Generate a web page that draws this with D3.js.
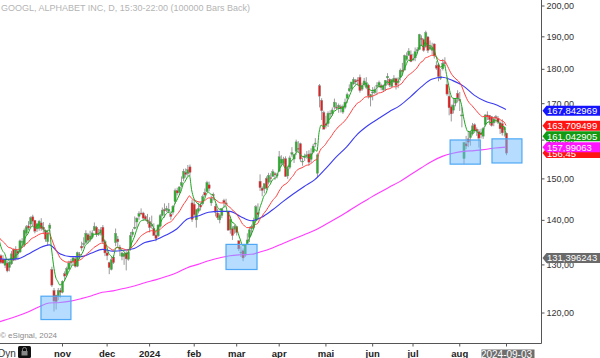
<!DOCTYPE html>
<html>
<head>
<meta charset="utf-8">
<script src="https://cdn.jsdelivr.net/npm/d3@7"></script>
<style>
  body { margin: 0; background: #fff; }
  svg { display: block; font-family: "Liberation Sans", Arial, sans-serif; }
</style>
</head>
<body>
<svg id="chart" width="600" height="358"></svg>
<script>
// GOOGL daily bars, 2023-09-20 .. 2024-09-03 (bar index 0..239)
const opens = [
  135.5,131.9,131.1,129.8,130.3,129.3,130.1,133.2,131.2,132.9,
  132.7,135.0,134.2,136.9,138.6,139.0,140.7,139.9,137.9,138.0,
  139.3,138.3,137.6,135.0,138.0,128.9,124.5,123.5,123.2,124.5,
  124.1,128.0,127.8,129.0,130.3,130.6,131.2,129.6,132.2,134.0,
  134.4,134.8,136.6,135.5,136.0,137.5,138.3,136.6,137.0,138.3,
  135.0,132.5,130.4,128.9,131.6,134.8,135.6,133.8,131.7,131.7,
  132.5,131.1,133.6,136.6,138.0,139.5,140.8,141.6,141.6,140.8,
  140.0,139.6,138.6,138.0,136.5,136.3,138.5,141.0,142.4,142.3,
  142.0,141.3,141.8,144.3,147.0,146.5,148.2,150.0,151.5,151.2,
  152.9,144.0,143.7,140.0,142.0,143.5,143.8,146.5,146.7,148.4,
  144.0,146.0,143.2,141.6,140.0,141.0,144.6,143.7,142.0,137.7,
  138.0,137.8,138.4,135.2,132.6,133.0,132.0,134.6,136.0,137.9,
  138.2,139.8,141.7,149.3,147.6,147.4,150.0,149.0,150.2,150.5,
  151.2,150.8,151.8,153.8,153.7,155.0,150.6,152.8,156.1,154.9,
  156.9,157.7,158.9,154.2,155.4,155.9,156.2,154.8,156.7,158.8,
  151.3,175.0,170.8,167.4,164.3,164.3,167.0,167.0,168.9,168.9,
  168.7,169.0,167.5,168.8,171.4,173.5,174.1,175.5,176.5,176.7,
  177.5,174.0,175.3,174.5,175.2,171.7,173.2,173.0,174.9,175.0,
  175.1,173.8,175.0,177.3,176.9,174.8,176.1,177.1,175.9,177.4,
  179.6,179.6,182.8,184.1,184.3,183.0,183.3,185.6,185.9,189.4,
  189.0,186.7,189.8,186.0,185.6,187.6,181.0,181.2,177.2,180.0,
  181.9,175.4,172.0,169.0,168.0,170.0,172.8,171.0,166.6,155.0,
  158.9,160.2,160.5,161.5,164.0,162.8,162.1,161.8,160.9,164.0,
  166.7,166.6,166.2,164.5,166.2,165.8,164.5,164.3,162.6,161.7
];
const highs = [
  136.0,132.2,132.0,131.3,130.7,130.9,132.9,133.5,134.0,133.4,
  135.5,135.8,138.0,138.8,139.7,140.8,141.2,140.0,139.2,140.0,
  140.4,139.5,137.8,137.7,139.3,129.5,125.0,123.6,125.0,125.0,
  126.6,128.5,129.5,130.8,131.2,131.6,131.6,132.8,132.7,135.0,
  136.0,137.6,137.0,137.5,137.6,139.4,138.6,137.9,138.3,138.8,
  135.4,133.0,130.6,131.7,132.0,138.0,136.3,134.3,132.8,132.5,
  132.9,133.4,137.2,137.9,140.8,140.6,142.0,142.7,141.9,141.1,
  141.4,140.6,141.0,139.2,137.1,139.0,141.4,142.9,143.9,143.3,
  144.0,142.0,143.5,147.5,147.7,148.0,150.5,152.4,152.5,153.4,
  153.5,144.8,144.8,142.6,144.0,144.0,146.0,147.5,149.4,149.2,
  145.8,146.5,143.8,142.6,141.5,142.7,145.0,145.0,142.1,140.3,
  138.5,138.9,138.5,135.3,134.0,133.5,134.4,136.9,138.4,138.9,
  140.5,143.5,143.9,151.0,148.0,148.7,150.5,151.4,151.3,152.3,
  151.6,151.4,157.0,155.9,155.5,155.6,153.2,155.8,158.0,156.2,
  160.0,159.6,159.2,155.3,156.3,157.0,157.2,157.7,158.9,160.4,
  156.4,175.5,171.4,167.9,166.5,167.7,168.0,168.8,171.3,170.2,
  169.9,169.6,169.6,171.3,173.0,175.4,176.1,177.5,177.0,177.5,
  178.3,175.9,177.3,177.5,175.6,172.6,174.6,174.8,176.0,176.5,
  175.6,175.4,176.6,178.7,177.2,177.0,178.1,177.4,177.5,180.1,
  181.8,184.3,185.0,186.3,185.6,184.6,186.5,186.6,190.8,190.3,
  189.3,191.8,190.1,188.7,188.0,187.8,182.3,181.6,179.9,183.0,
  183.5,177.5,173.6,169.6,171.5,171.5,173.7,173.2,168.8,159.4,
  161.0,162.4,162.4,164.5,164.4,163.3,162.8,162.9,163.4,166.9,
  167.7,166.6,166.4,166.1,166.7,166.4,164.9,165.5,163.5,161.9
];
const lows = [
  133.5,130.1,130.1,129.2,128.3,128.5,129.9,130.7,130.8,131.0,
  132.5,133.6,133.8,136.4,137.6,138.0,138.6,136.9,137.2,137.5,
  137.5,137.0,135.0,134.1,137.2,125.2,120.2,120.6,122.5,123.0,
  123.9,126.5,127.5,128.8,129.6,130.0,129.3,129.4,131.2,133.0,
  133.7,134.5,134.6,135.0,135.6,137.5,136.1,136.3,136.4,134.5,
  131.8,130.9,127.9,128.7,130.1,134.0,133.9,131.8,130.9,129.9,
  128.7,130.8,133.0,136.1,137.8,138.1,140.0,141.2,139.8,139.8,
  139.0,137.1,138.0,136.4,135.1,136.0,138.2,140.8,140.5,141.8,
  141.6,140.0,141.2,143.8,145.8,146.0,147.8,149.3,150.2,150.4,
  150.6,139.5,140.9,138.2,141.5,142.2,143.4,145.4,146.6,146.8,
  143.3,144.6,140.8,140.0,139.2,140.4,142.8,143.3,137.6,136.8,
  135.4,136.8,136.4,132.9,131.6,130.7,131.6,134.3,134.9,136.4,
  137.8,139.7,139.9,146.9,145.6,146.3,147.2,148.5,149.0,150.4,
  149.6,150.0,151.6,153.0,153.5,150.4,149.9,152.3,155.5,153.9,
  156.0,156.6,154.2,153.2,154.4,155.0,153.2,154.0,156.6,158.0,
  150.2,168.8,165.3,162.8,163.0,163.4,165.6,166.5,168.2,168.2,
  167.3,167.4,167.0,168.3,170.0,173.2,173.5,175.3,175.2,175.0,
  173.0,173.5,174.8,174.0,171.3,169.1,170.8,172.5,172.3,174.4,
  173.7,173.2,173.5,175.3,174.6,174.5,175.8,173.9,174.3,176.5,
  178.0,179.6,182.4,183.9,182.0,182.3,182.3,184.7,185.7,186.9,
  185.2,186.4,184.8,185.7,184.3,183.1,179.7,176.3,176.7,179.5,
  180.8,172.1,166.6,164.9,167.1,169.1,170.2,167.8,163.3,153.6,
  157.5,158.0,158.4,161.1,161.8,161.0,157.9,160.3,160.2,163.5,
  165.3,164.0,163.5,163.6,164.6,164.2,161.5,161.1,160.8,155.9
];
const closes = [
  133.7,130.4,130.3,131.1,128.6,130.5,132.3,130.9,133.3,132.4,
  135.2,135.1,137.6,138.4,138.1,140.5,139.7,137.4,139.1,139.7,
  138.0,137.8,135.6,137.0,138.8,125.6,122.3,122.2,124.5,124.1,
  126.4,127.5,129.1,130.3,130.7,131.4,129.6,132.6,132.1,133.6,
  134.6,136.9,135.3,136.3,137.0,138.5,136.7,136.9,137.7,135.0,
  132.5,131.9,129.3,131.0,130.4,136.9,135.0,133.3,132.5,132.4,
  131.2,132.7,136.4,137.2,138.3,140.4,141.5,141.5,140.4,140.2,
  139.7,138.2,138.9,136.4,135.7,138.8,141.0,142.3,142.1,142.7,
  142.5,140.8,143.2,147.0,146.4,147.9,149.0,151.8,151.0,152.2,
  151.5,140.1,141.2,142.4,142.7,143.0,145.5,145.9,149.0,147.5,
  145.1,145.9,141.8,140.5,141.1,142.6,144.1,144.0,137.6,140.1,
  136.4,138.5,137.1,133.4,132.7,131.4,134.4,135.4,137.7,138.5,
  139.8,143.1,141.2,147.7,147.0,148.7,147.6,150.8,150.0,151.7,
  150.9,150.9,155.5,154.9,154.9,150.5,152.5,155.2,156.6,156.1,
  159.4,157.5,154.9,154.4,155.5,156.0,154.1,156.3,158.3,159.1,
  156.0,172.0,167.9,162.8,163.9,167.2,167.2,168.1,170.3,168.6,
  169.4,168.6,169.1,170.3,172.5,174.2,176.1,176.9,176.1,176.4,
  173.6,175.0,176.4,175.9,172.1,172.5,173.2,173.8,175.1,176.0,
  174.5,175.0,176.6,177.8,175.2,176.8,177.2,175.1,176.3,179.6,
  179.2,184.0,183.9,185.4,182.2,183.0,185.2,185.8,190.6,189.0,
  185.6,191.2,185.6,186.8,186.5,183.9,180.2,177.7,177.7,181.7,
  181.8,172.6,168.7,167.0,169.5,171.1,171.5,170.8,166.7,159.25,
  158.3,159.3,162.0,163.7,162.3,162.3,160.4,161.3,163.0,166.7,
  166.2,165.4,163.8,165.6,165.9,164.7,162.9,161.8,163.4,156.45
];

// short average (green), one value per bar
const fastAvg = [
  136.3,134.3,133.0,132.4,131.1,130.9,131.4,131.2,131.9,132.1,
  133.1,133.8,135.1,136.2,136.8,138.0,138.6,138.2,138.5,138.9,
  138.6,138.3,137.4,137.3,137.8,133.7,129.9,127.3,126.4,125.6,
  125.9,126.4,127.3,128.3,129.1,129.9,129.8,130.7,131.2,132.0,
  132.9,134.2,134.6,135.2,135.8,136.7,136.7,136.8,137.1,136.4,
  135.1,134.0,132.4,131.9,131.4,133.2,133.8,133.6,133.2,132.9,
  132.3,132.4,133.7,134.9,136.0,137.5,138.8,139.7,139.9,140.0,
  139.9,139.3,139.2,138.3,137.4,137.9,138.9,140.0,140.7,141.4,
  141.8,141.5,142.1,143.7,144.6,145.7,146.8,148.5,149.3,150.3,
  150.7,147.2,145.2,144.3,143.8,143.5,144.2,144.8,146.2,146.6,
  146.1,146.0,144.6,143.2,142.5,142.5,143.0,143.3,141.4,141.0,
  139.5,139.2,138.5,136.8,135.4,134.1,134.2,134.6,135.6,136.6,
  137.7,139.5,140.1,142.6,144.1,145.6,146.3,147.8,148.5,149.6,
  150.0,150.3,152.0,153.0,153.6,152.6,152.6,153.5,154.5,155.0,
  156.5,156.8,156.2,155.6,155.6,155.7,155.2,155.6,156.5,157.4,
  156.9,161.9,163.9,163.5,163.6,164.8,165.6,166.4,167.7,168.0,
  168.5,168.5,168.7,169.2,170.3,171.6,173.1,174.4,175.0,175.5,
  174.9,174.9,175.4,175.6,174.4,173.8,173.6,173.7,174.2,174.8,
  174.7,174.8,175.4,176.2,175.9,176.2,176.5,176.0,176.1,177.3,
  177.9,179.9,181.2,182.6,182.5,182.7,183.5,184.3,186.4,187.3,
  186.7,188.2,187.3,187.1,186.9,185.9,184.0,181.9,180.5,180.9,
  181.2,178.3,175.1,172.4,171.4,171.3,171.4,171.2,169.7,166.2,
  163.6,162.2,162.1,162.6,162.5,162.4,161.7,161.6,162.1,163.6,
  164.5,164.8,164.5,164.9,165.2,165.0,164.3,163.5,163.5,161.1
];

// medium average (red), one value per bar
const midAvg = [
  136.2,135.6,135.1,134.7,134.1,133.7,133.6,133.3,133.3,133.2,
  133.4,133.6,134.0,134.5,134.8,135.4,135.8,136.0,136.3,136.6,
  136.8,136.9,136.7,136.8,137.0,135.8,134.5,133.3,132.4,131.5,
  131.0,130.7,130.5,130.5,130.5,130.6,130.5,130.7,130.9,131.1,
  131.5,132.0,132.4,132.8,133.2,133.7,134.0,134.3,134.6,134.7,
  134.5,134.2,133.7,133.4,133.1,133.5,133.7,133.6,133.5,133.4,
  133.2,133.1,133.5,133.8,134.3,134.9,135.6,136.2,136.6,136.9,
  137.2,137.3,137.5,137.4,137.2,137.4,137.7,138.2,138.6,139.0,
  139.3,139.5,139.9,140.6,141.2,141.8,142.6,143.5,144.2,145.0,
  145.7,145.1,144.7,144.5,144.3,144.2,144.3,144.5,144.9,145.2,
  145.2,145.3,144.9,144.5,144.1,144.0,144.0,144.0,143.3,143.0,
  142.4,142.0,141.5,140.7,139.9,139.0,138.6,138.2,138.2,138.2,
  138.4,138.9,139.1,140.0,140.7,141.5,142.1,142.9,143.7,144.5,
  145.1,145.7,146.7,147.5,148.2,148.5,148.9,149.5,150.2,150.8,
  151.7,152.2,152.5,152.7,153.0,153.3,153.4,153.7,154.1,154.6,
  154.8,156.5,157.6,158.1,158.7,159.6,160.3,161.1,162.0,162.7,
  163.4,163.9,164.4,165.0,165.7,166.6,167.5,168.5,169.2,170.0,
  170.3,170.8,171.4,171.8,171.8,171.9,172.0,172.2,172.5,172.9,
  173.0,173.2,173.6,174.0,174.1,174.4,174.7,174.7,174.9,175.3,
  175.7,176.6,177.3,178.1,178.5,179.0,179.6,180.2,181.2,182.0,
  182.4,183.3,183.5,183.8,184.1,184.1,183.7,183.1,182.5,182.5,
  182.4,181.4,180.1,178.8,177.9,177.2,176.7,176.1,175.1,173.5,
  172.0,170.7,169.9,169.3,168.6,167.9,167.2,166.6,166.2,166.3,
  166.3,166.2,165.9,165.9,165.9,165.8,165.5,165.1,164.8,163.8
];

// slow averages (blue, magenta), read every 5 bars
const slowIdx = [0,4,9,14,19,24,29,34,39,44,49,54,59,64,69,74,79,84,89,94,99,104,109,114,119,
                 124,129,134,139,144,149,154,159,164,169,174,179,184,189,194,199,204,209,214,219,224,229,234,239];
const slowAvg = [131.3,131.1,131.2,132.2,133.5,134.3,132.3,131.7,131.7,132.5,133.3,132.9,133.1,133.5,134.8,135.4,136.5,137.9,140.2,140.9,141.8,142.0,142.0,140.8,139.8,
                 140.6,142.3,144.3,146.2,148.0,149.7,152.4,155.4,158.1,161.4,163.8,165.7,167.6,169.3,171.8,174.6,176.9,177.5,176.5,174.9,172.3,170.6,169.6,168.2];
const longAvg = [118.1,118.6,119.3,120.1,121.1,121.9,122.0,122.3,122.8,123.4,124.1,124.4,124.9,125.4,126.1,126.7,127.4,128.2,129.3,130.0,130.8,131.4,131.9,132.1,132.2,
                 132.8,133.6,134.6,135.6,136.6,137.6,138.9,140.3,141.8,143.4,144.9,146.4,147.8,149.2,150.9,152.6,154.3,155.6,156.4,156.9,157.1,157.4,157.8,158.0];

const monthLabels = ['nov','dec','2024','feb','mar','apr','mai','jun','jul','aug'];
const monthStart = [30,51,71,92,112,132,154,176,195,217];
const lastIdx = 239;
const lastDate = '2024-09-03';
const priceTicks = [120,130,140,150,160,170,180,190,200];

// value flags on the price scale
const flagValues = [167.842969, 163.709499, 161.042905, 157.99063];
const flagTexts = ['167,842969','163,709499','161,042905','157,99063'];
const flagColors = ['#1414ff','#ff1414','#139a13','#ff14ff'];
const lastPrice = 156.45;
const extraValue = 131.396243;

// highlighted zones: [first bar, last bar, top price, bottom price]
const zones = [
  [20.1, 34.2, 123.3, 118.6],
  [107.2, 121.8, 134.4, 128.9],
  [212.7, 226.9, 159.9, 153.6],
  [232.4, 246.5, 160.2, 153.9]
];

const titleText = 'GOOGL, ALPHABET INC, D, 15:30-22:00 (100000 Bars Back)';

const svg = d3.select('#chart');
const plotW = 541.5, plotH = 343.5;

const x = d3.scaleLinear().domain([30, 239]).range([62, 506]);
const y = d3.scaleLog().domain([120, 200]).range([312.5, 5.5]);

svg.append('defs').append('clipPath').attr('id', 'clip')
   .append('rect').attr('x', 0).attr('y', 0).attr('width', plotW).attr('height', plotH);

svg.append('text')
   .attr('x', 1).attr('y', 11)
   .attr('font-size', 9).attr('fill', '#b4b4b4')
   .text(titleText);

const g = svg.append('g').attr('clip-path', 'url(#clip)');

const bars = d3.range(closes.length);

// candles
g.append('g').selectAll('line').data(bars).enter().append('line')
   .attr('x1', i => x(i) + 0.5).attr('x2', i => x(i) + 0.5)
   .attr('y1', i => y(highs[i])).attr('y2', i => y(lows[i]))
   .attr('stroke', '#9a9a9a').attr('stroke-width', 1);

g.append('g').selectAll('rect').data(bars).enter().append('rect')
   .attr('x', i => x(i) - 0.6)
   .attr('width', 2.2)
   .attr('y', i => y(Math.max(opens[i], closes[i])))
   .attr('height', i => Math.max(1, Math.abs(y(opens[i]) - y(closes[i]))))
   .attr('fill', i => closes[i] >= opens[i] ? '#2bb02b' : '#e31e1e')
   .attr('stroke', '#8c8c8c').attr('stroke-width', 0.4);

// averages
const lineBars = d3.line().x(i => x(i)).curve(d3.curveMonotoneX);

g.append('path')
   .attr('d', d3.line().x((d, k) => x(slowIdx[k])).y(d => y(d)).curve(d3.curveMonotoneX)(longAvg))
   .attr('fill', 'none').attr('stroke', '#ff3cff').attr('stroke-width', 1.1);
g.append('path')
   .attr('d', d3.line().x((d, k) => x(slowIdx[k])).y(d => y(d)).curve(d3.curveMonotoneX)(slowAvg))
   .attr('fill', 'none').attr('stroke', '#3c3cf0').attr('stroke-width', 1.1);
g.append('path')
   .attr('d', lineBars.y(i => y(midAvg[i]))(bars))
   .attr('fill', 'none').attr('stroke', '#ff4040').attr('stroke-width', 1);
g.append('path')
   .attr('d', d3.line().x(i => x(i)).y(i => y(fastAvg[i])).curve(d3.curveMonotoneX)(bars))
   .attr('fill', 'none').attr('stroke', '#1ea61e').attr('stroke-width', 1);

// highlighted zones
g.append('g').selectAll('rect').data(zones).enter().append('rect')
   .attr('x', d => x(d[0])).attr('width', d => x(d[1]) - x(d[0]))
   .attr('y', d => y(d[2])).attr('height', d => y(d[3]) - y(d[2]))
   .attr('fill', 'rgba(110,185,255,0.5)')
   .attr('stroke', '#4ea8f5').attr('stroke-width', 1.2);

// price axis
svg.append('line')
   .attr('x1', plotW).attr('x2', plotW).attr('y1', 0).attr('y2', plotH)
   .attr('stroke', '#555');
const yAxis = svg.append('g').attr('transform', `translate(${plotW},0)`)
   .call(d3.axisRight(y).tickValues(priceTicks).tickSize(3).tickPadding(2)
         .tickFormat(d => d.toFixed(2).replace('.', ',')));
yAxis.select('.domain').remove();
yAxis.selectAll('line').attr('stroke', '#555');
yAxis.selectAll('text').attr('font-size', 9).attr('fill', '#333')
   .attr('font-family', '"Liberation Sans", Arial, sans-serif');

// time axis
svg.append('line')
   .attr('x1', 0).attr('x2', plotW).attr('y1', plotH).attr('y2', plotH)
   .attr('stroke', '#555');
const xAxis = svg.append('g').attr('transform', `translate(0,${plotH})`)
   .call(d3.axisBottom(x).tickValues([...monthStart, lastIdx]).tickSize(3).tickPadding(4)
         .tickFormat(i => i === lastIdx ? lastDate : monthLabels[monthStart.indexOf(i)]));
xAxis.select('.domain').remove();
xAxis.selectAll('line').attr('stroke', '#555');
xAxis.selectAll('text').attr('font-size', 9.5).attr('font-weight', 'bold').attr('fill', '#222')
   .attr('font-family', '"Liberation Sans", Arial, sans-serif');
const lastTick = xAxis.selectAll('.tick').filter(d => d === lastIdx);
lastTick.select('text').attr('font-weight', 'normal').attr('fill', '#fff').attr('font-size', 10);
lastTick.insert('rect', 'text')
   .attr('x', -25).attr('y', 6).attr('width', 53).attr('height', 10)
   .attr('fill', '#6e6e6e');

// flags
function flag(val, txt, color) {
  const cy = y(val);
  const fg = svg.append('g');
  fg.append('path')
    .attr('d', `M${plotW + 1},${cy} L${plotW + 5},${cy - 5} L600,${cy - 5} L600,${cy + 5} L${plotW + 5},${cy + 5} Z`)
    .attr('fill', color);
  fg.append('text')
    .attr('x', plotW + 5.5).attr('y', cy).attr('dy', '0.36em')
    .attr('font-size', 9.5).attr('fill', '#fff')
    .text(txt);
}
flag(lastPrice, lastPrice.toFixed(2).replace('.', ','), '#ff1414');
let prevY = -100;
flagValues.forEach((v, k) => {
  let cy = Math.max(y(v), prevY + 10.5);
  prevY = cy;
  flag(y.invert(cy), flagTexts[k], flagColors[k]);
});
flag(extraValue, '131,396243', '#6a6a6a');

// footer bits
svg.append('text').attr('x', 0).attr('y', 338)
   .attr('font-size', 8).attr('fill', '#8a8a8a').text('\u00a9 eSignal, 2024');
svg.append('text').attr('x', -2).attr('y', 357)
   .attr('font-size', 10).attr('fill', '#333').text('Dyn');
svg.append('rect').attr('x', 18).attr('y', 346).attr('width', 13).attr('height', 12)
   .attr('rx', 1.5).attr('fill', '#111');
svg.append('path').attr('d', 'M22.5,351 v-1.5 a2,2 0 0 1 4,0 v1.5')
   .attr('fill', 'none').attr('stroke', '#888').attr('stroke-width', 1);
svg.append('rect').attr('x', 21.5).attr('y', 351).attr('width', 6).attr('height', 4.5)
   .attr('fill', '#888');
</script>
</body>
</html>
